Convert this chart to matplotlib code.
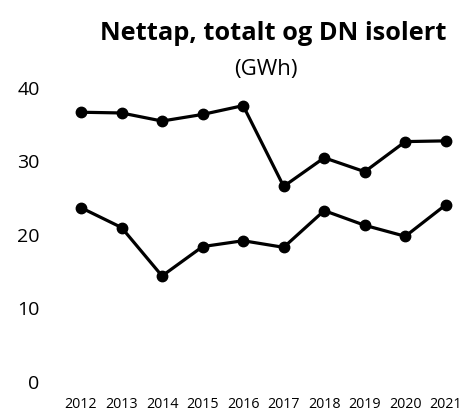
import matplotlib
matplotlib.use("Agg")
import matplotlib.pyplot as plt

years = ["2012", "2013", "2014", "2015", "2016", "2017", "2018", "2019", "2020", "2021"]
total = [36.7, 36.6, 35.5, 36.4, 37.6, 26.6, 30.5, 28.6, 32.7, 32.8]
dn = [23.7, 21.0, 14.4, 18.4, 19.2, 18.3, 23.3, 21.3, 19.8, 24.1]
yticks = [0, 10, 20, 30, 40]

plt.rcParams['font.family'] = ['Open Sans', 'DejaVu Sans']

fig = plt.figure(figsize=(4.64, 4.12), dpi=100)
W, H = 464, 412
left, right, top, bottom = 68.8, 458, 88, 381.7
ax = fig.add_axes([left / W, (H - bottom) / H, (right - left) / W, (bottom - top) / H])
x = list(range(len(years)))
for s in (total, dn):
    ax.plot(x, s, color="black", lw=2.3, marker="o", ms=7.5, clip_on=False)
ax.set_xlim(-0.3, 9.3)
ax.set_ylim(0, 40)
ax.set_yticks(yticks)
ax.set_yticklabels([str(v) for v in yticks], fontsize=14)
ax.set_xticks(x)
ax.set_xticklabels(years, fontsize=10.3)
ax.tick_params(axis="y", length=0, pad=21)
ax.tick_params(axis="x", length=0, pad=11)
for sp in ax.spines.values():
    sp.set_visible(False)

fig.text(273 / W, 1 - 33 / H, "Nettap, totalt og DN isolert", ha="center", va="center",
         fontsize=18.3, fontweight="bold")
fig.text(266 / W, 1 - 70 / H, "(GWh)", ha="center", va="center", fontsize=16)

fig.savefig("out.png", dpi=100)
